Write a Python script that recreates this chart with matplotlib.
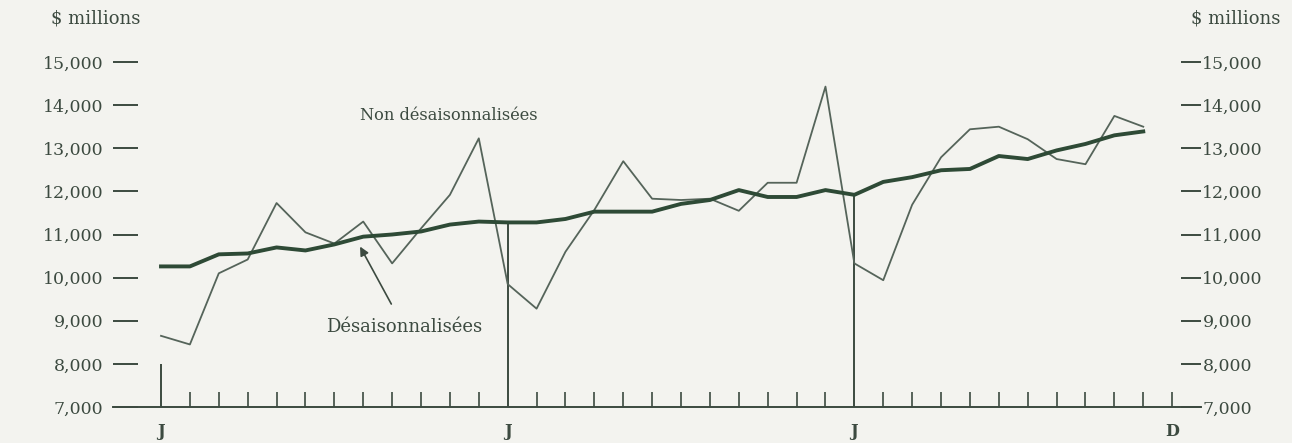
import numpy as np
import matplotlib.pyplot as plt

# monthly values, $ millions, Jan of year 1 to Nov of year 3
months = np.arange(35)
non_adjusted = [8650, 8450, 10100, 10420, 11730, 11050, 10790, 11300, 10330, 11140, 11920, 13230,
                9850, 9280, 10600, 11570, 12700, 11830, 11800, 11830, 11550, 12200, 12200, 14430,
                10330, 9940, 11690, 12790, 13440, 13500, 13210, 12750, 12630, 13750, 13500]
adjusted = [10260, 10260, 10540, 10560, 10700, 10630, 10770, 10950, 11000, 11070, 11230, 11300,
            11280, 11280, 11360, 11530, 11530, 11530, 11710, 11800, 12030, 11870, 11870, 12030,
            11920, 12220, 12330, 12490, 12520, 12820, 12750, 12950, 13100, 13300, 13390]
yticks = [7000, 8000, 9000, 10000, 11000, 12000, 13000, 14000, 15000]
ytick_labels = ["7,000", "8,000", "9,000", "10,000", "11,000", "12,000", "13,000", "14,000", "15,000"]
month_labels = {0: "J", 12: "J", 24: "J", 35: "D"}

bg = "#f3f3ef"
ink = "#3c4a40"
thin_col = "#55645a"
thick_col = "#2e4a36"

plt.rcParams['font.family'] = ['DejaVu Serif']

fig = plt.figure(figsize=(12.92, 4.43), dpi=100, facecolor=bg)
ax = fig.add_axes([0.0875, 0.0813, 0.8421, 0.7787])
ax.set_facecolor(bg)
ax.set_xlim(-1.66, 36.0)
ax.set_ylim(7000, 15000)

# the two series
ax.plot(months, non_adjusted, color=thin_col, lw=1.3, clip_on=False, zorder=3)
ax.plot(months, adjusted, color=thick_col, lw=2.8, clip_on=False, zorder=4)

# tall ticks at each January
ax.vlines(0, 7000, 8000, color=ink, lw=1.4)
ax.vlines([12, 24], 7000, [adjusted[12], adjusted[24]], color=ink, lw=1.4)

# month ticks along the base
ax.set_xticks([m for m in range(1, 36) if m not in (12, 24)])
ax.tick_params(axis='x', direction='in', length=10.5, width=1.2, color=ink, labelbottom=False)
for m, lab in month_labels.items():
    ax.text(m, 6430, lab, ha='center', va='center', fontsize=11.5, fontweight='bold', color=ink)

# y axis on both sides
ax.set_yticks(yticks)
ax.set_yticklabels(ytick_labels)
ax.tick_params(axis='y', direction='in', length=18, width=1.4, color=ink, labelsize=12.5,
               labelcolor=ink, pad=7)
ax2 = ax.twinx()
ax2.set_ylim(ax.get_ylim())
ax2.set_yticks(yticks)
ax2.set_yticklabels(ytick_labels)
ax2.tick_params(axis='y', direction='in', length=14.5, width=1.4, color=ink, labelsize=12.5,
                labelcolor=ink, pad=1)

for a in (ax, ax2):
    for s in ("left", "right", "top"):
        a.spines[s].set_visible(False)
ax.spines["bottom"].set_color(ink)
ax.spines["bottom"].set_linewidth(1.4)
ax2.spines["bottom"].set_visible(False)

# labels
fig.text(96 / 1292, 1 - 18 / 443, "$ millions", ha='center', va='center', fontsize=13, color=ink)
fig.text(1236 / 1292, 1 - 18 / 443, "$ millions", ha='center', va='center', fontsize=13, color=ink)
ax.text(9.97, 13760, "Non désaisonnalisées", ha='center', va='center', fontsize=11.7, color=ink)
ax.annotate("Désaisonnalisées", xy=(6.89, 10720), xytext=(8.4, 8860),
            ha='center', va='center', fontsize=13, color=ink,
            arrowprops=dict(arrowstyle='-|>', color=ink, lw=1.2, shrinkA=9, shrinkB=0))

fig.savefig("out.png", dpi=100, facecolor=bg)
